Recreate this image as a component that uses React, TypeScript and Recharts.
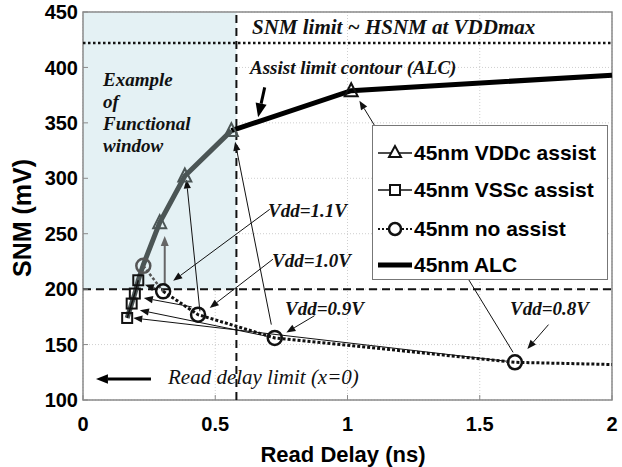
import React from "react";
import {
  CartesianGrid,
  ReferenceArea,
  ReferenceLine,
  Scatter,
  ScatterChart,
  XAxis,
  YAxis,
} from "recharts";

const W = 622;
const H = 467;

// read delay (ns) and SNM (mV) per curve
const windowDelay = [0.167, 0.184, 0.196, 0.209, 0.228, 0.29, 0.385, 0.561];
const windowSnm = [174, 187, 196, 208, 222, 260, 302, 343];

const vddcDelay = [0.29, 0.385, 0.561, 1.014];
const vddcSnm = [260, 302, 343, 379];

const vsscDelay = [0.167, 0.184, 0.196, 0.209];
const vsscSnm = [174, 187, 196, 208];

// last point only carries the line out to the right edge
const noAssistDelay = [0.228, 0.303, 0.435, 0.725, 1.633, 2.0];
const noAssistSnm = [221, 198, 177, 156, 134, 132];

const alcDelay = [0.561, 1.014, 2.0];
const alcSnm = [343, 379, 393];

const xTicks = [0, 0.5, 1, 1.5, 2];
const yTicks = [100, 150, 200, 250, 300, 350, 400, 450];

const readDelayLimit = 0.58;
const snmFloor = 200;
const snmLimit = 422;

// annotation arrows: [x1, y1, x2, y2], head at the second point
const thinArrows = [
  [0.706, 272, 0.341, 207.5],
  [0.718, 227, 0.479, 183],
  [0.875, 176, 0.769, 161],
  [1.76, 168, 1.68, 146],
  [0.442, 180, 0.391, 299],
  [0.712, 168, 0.575, 333],
  [1.626, 143, 1.045, 370],
  [0.283, 200, 0.234, 204],
  [0.411, 184, 0.23, 192],
  [0.706, 157, 0.215, 181],
  [1.6, 135, 0.19, 174],
];
const grayArrow = [0.309, 204.5, 0.309, 248];
const alcArrow = [0.687, 382, 0.662, 355];
const limitArrow = [0.257, 119, 0.049, 119];

const serif = "'Liberation Serif', 'Times New Roman', serif";
const sans = "'Liberation Sans', Arial, sans-serif";

const GRAY = "#4b5555";
const FRAME = "#8a8a8a";

function toPoints(xs: number[], ys: number[]) {
  return xs.map((x, i) => ({ x, y: ys[i] }));
}

function arrowShape(color: string, width: number, head: number) {
  return (p: any) => {
    const { x1, y1, x2, y2 } = p;
    const a = Math.atan2(y2 - y1, x2 - x1);
    const hw = head * 0.4;
    const bx = x2 - head * Math.cos(a);
    const by = y2 - head * Math.sin(a);
    const pts = [
      `${x2},${y2}`,
      `${bx + hw * Math.sin(a)},${by - hw * Math.cos(a)}`,
      `${bx - hw * Math.sin(a)},${by + hw * Math.cos(a)}`,
    ].join(" ");
    return (
      <g>
        <line x1={x1} y1={y1} x2={bx} y2={by} stroke={color} strokeWidth={width} />
        <polygon points={pts} fill={color} />
      </g>
    );
  };
}

const triangle = (color: string) => (p: any) => {
  const { cx, cy } = p;
  const s = 6.5;
  return (
    <polygon
      points={`${cx},${cy - s - 1} ${cx - s},${cy + s - 1} ${cx + s},${cy + s - 1}`}
      fill="none"
      stroke={color}
      strokeWidth={2}
    />
  );
};

const square = (p: any) => (
  <rect x={p.cx - 5} y={p.cy - 5} width={10} height={10} fill="none" stroke="#111" strokeWidth={2} />
);

const circle = (color: string) => (p: any) => (
  <circle cx={p.cx} cy={p.cy} r={7} fill="none" stroke={color} strokeWidth={2.5} />
);

const noMarker = () => <g />;

function arrowLine(a: number[], color: string, width: number, head: number, key?: number) {
  return (
    <ReferenceLine
      key={key}
      segment={[
        { x: a[0], y: a[1] },
        { x: a[2], y: a[3] },
      ]}
      ifOverflow="visible"
      shape={arrowShape(color, width, head)}
    />
  );
}

const italic: React.CSSProperties = {
  position: "absolute",
  fontFamily: serif,
  fontStyle: "italic",
  fontWeight: "bold",
  fontSize: 19,
  whiteSpace: "nowrap",
  lineHeight: "22px",
  color: "#111",
};

const tickFont = { fill: "#000", fontSize: 20, fontWeight: "bold", fontFamily: sans };

function LegendRow({ y, sample, label }: { y: number; sample: React.ReactNode; label: string }) {
  return (
    <div style={{ position: "absolute", left: 4, top: y - 12, height: 24, display: "flex", alignItems: "center" }}>
      <svg width={36} height={24}>{sample}</svg>
      <span style={{ fontFamily: sans, fontWeight: "bold", fontSize: 21, marginLeft: 1 }}>{label}</span>
    </div>
  );
}

export default function App() {
  const windowPts = toPoints(windowDelay, windowSnm);
  const vddcPts = toPoints(vddcDelay, vddcSnm);
  const vsscPts = toPoints(vsscDelay, vsscSnm);
  const noAssistPts = toPoints(noAssistDelay, noAssistSnm);
  const alcPts = toPoints(alcDelay, alcSnm);

  return (
    <div style={{ position: "absolute", left: 0, top: 0, width: W, height: H, background: "#fff" }}>
      <ScatterChart width={W} height={H} margin={{ top: 12, right: 10, left: 0, bottom: 0 }}>
        <ReferenceArea x1={0} x2={readDelayLimit} y1={snmFloor} y2={450} fill="#e4f1f4" fillOpacity={1} stroke="none" />
        <CartesianGrid stroke="#cfcfcf" strokeDasharray="1 2" />
        <XAxis
          type="number"
          dataKey="x"
          domain={[0, 2]}
          ticks={xTicks}
          tickFormatter={(v) => String(v)}
          axisLine={false}
          tickLine={{ stroke: FRAME }}
          tickSize={-5}
          tickMargin={22}
          height={67}
          tick={tickFont}
        />
        <YAxis
          type="number"
          dataKey="y"
          domain={[100, 450]}
          ticks={yTicks}
          axisLine={false}
          tickLine={{ stroke: FRAME }}
          tickSize={-5}
          tickMargin={10}
          width={83}
          tick={tickFont}
        />
        <XAxis
          xAxisId="top"
          orientation="top"
          type="number"
          domain={[0, 2]}
          ticks={xTicks}
          axisLine={false}
          tick={false}
          tickLine={{ stroke: FRAME }}
          tickSize={-5}
          height={0}
        />
        <YAxis
          yAxisId="right"
          orientation="right"
          type="number"
          domain={[100, 450]}
          ticks={yTicks}
          axisLine={false}
          tick={false}
          tickLine={{ stroke: FRAME }}
          tickSize={-5}
          width={0}
        />
        <ReferenceArea x1={0} x2={2} y1={100} y2={450} fill="none" stroke={FRAME} strokeWidth={1.5} />
        <ReferenceLine y={snmLimit} stroke="#111" strokeWidth={2.5} strokeDasharray="2.5 2.5" />
        <ReferenceLine y={snmFloor} stroke="#111" strokeWidth={2} strokeDasharray="8 5" />
        <ReferenceLine x={readDelayLimit} stroke="#111" strokeWidth={2} strokeDasharray="8 5" />

        {thinArrows.map((a, i) => arrowLine(a, "#111", 1, 9, i))}
        {arrowLine(grayArrow, "#666", 2, 10)}
        {arrowLine(alcArrow, "#000", 3, 14)}
        {arrowLine(limitArrow, "#000", 3, 12)}

        {/* curves */}
        <Scatter data={alcPts} line={{ stroke: "#000", strokeWidth: 5 }} shape={noMarker} isAnimationActive={false} />
        <Scatter data={windowPts} line={{ stroke: GRAY, strokeWidth: 5 }} shape={noMarker} isAnimationActive={false} />
        <Scatter data={vsscPts} line={{ stroke: "#111", strokeWidth: 1.5 }} shape={noMarker} isAnimationActive={false} />
        <Scatter
          data={noAssistPts.slice(0, 2)}
          line={{ stroke: "#555", strokeWidth: 2.5, strokeDasharray: "3 2" }}
          shape={noMarker}
          isAnimationActive={false}
        />
        <Scatter
          data={noAssistPts.slice(1)}
          line={{ stroke: "#111", strokeWidth: 3, strokeDasharray: "3 2" }}
          shape={noMarker}
          isAnimationActive={false}
        />

        {/* markers */}
        <Scatter data={vsscPts} shape={square} isAnimationActive={false} />
        <Scatter data={noAssistPts.slice(0, 1)} shape={circle("#555")} isAnimationActive={false} />
        <Scatter data={noAssistPts.slice(1, 5)} shape={circle("#111")} isAnimationActive={false} />
        <Scatter data={vddcPts.slice(0, 3)} shape={triangle(GRAY)} isAnimationActive={false} />
        <Scatter data={vddcPts.slice(3)} shape={triangle("#111")} isAnimationActive={false} />
      </ScatterChart>

      <div style={{ ...italic, left: 252, top: 16, fontSize: 21 }}>SNM limit ~ HSNM at VDDmax</div>
      <div style={{ ...italic, left: 250, top: 57 }}>Assist limit contour (ALC)</div>
      <div style={{ ...italic, left: 103, top: 69 }}>
        Example
        <br />
        of
        <br />
        Functional
        <br />
        window
      </div>
      <div style={{ ...italic, left: 268, top: 200 }}>Vdd=1.1V</div>
      <div style={{ ...italic, left: 272, top: 250 }}>Vdd=1.0V</div>
      <div style={{ ...italic, left: 285, top: 298 }}>Vdd=0.9V</div>
      <div style={{ ...italic, left: 510, top: 298 }}>Vdd=0.8V</div>
      <div style={{ ...italic, fontWeight: "normal", fontSize: 21, left: 168, top: 366 }}>Read delay limit (x=0)</div>

      <div
        style={{
          position: "absolute",
          left: 0,
          top: 443,
          width: W,
          paddingLeft: 64,
          boxSizing: "border-box",
          textAlign: "center",
          fontFamily: sans,
          fontWeight: "bold",
          fontSize: 22,
          lineHeight: "23px",
        }}
      >
        Read Delay (ns)
      </div>
      <div
        style={{
          position: "absolute",
          left: 22,
          top: 218,
          transform: "translate(-50%, -50%) rotate(-90deg)",
          fontFamily: sans,
          fontWeight: "bold",
          fontSize: 25,
          whiteSpace: "nowrap",
        }}
      >
        SNM (mV)
      </div>

      <div
        style={{
          position: "absolute",
          left: 372,
          top: 125,
          width: 236,
          height: 155,
          boxSizing: "border-box",
          border: "1px solid #777",
          background: "#fff",
        }}
      >
        <LegendRow
          y={27}
          label="45nm VDDc assist"
          sample={
            <g>
              <line x1={1} y1={12} x2={35} y2={12} stroke="#111" strokeWidth={1.5} />
              <polygon points="18,5 12,16 24,16" fill="#fff" stroke="#111" strokeWidth={2} />
            </g>
          }
        />
        <LegendRow
          y={64}
          label="45nm VSSc assist"
          sample={
            <g>
              <line x1={1} y1={12} x2={35} y2={12} stroke="#111" strokeWidth={1.5} />
              <rect x={13} y={7} width={10} height={10} fill="#fff" stroke="#111" strokeWidth={2} />
            </g>
          }
        />
        <LegendRow
          y={103}
          label="45nm no assist"
          sample={
            <g>
              <line x1={1} y1={12} x2={35} y2={12} stroke="#111" strokeWidth={2} strokeDasharray="2 2" />
              <circle cx={18} cy={12} r={6} fill="#fff" stroke="#111" strokeWidth={2.5} />
            </g>
          }
        />
        <LegendRow
          y={139}
          label="45nm ALC"
          sample={<line x1={1} y1={12} x2={35} y2={12} stroke="#000" strokeWidth={5} />}
        />
      </div>
    </div>
  );
}
